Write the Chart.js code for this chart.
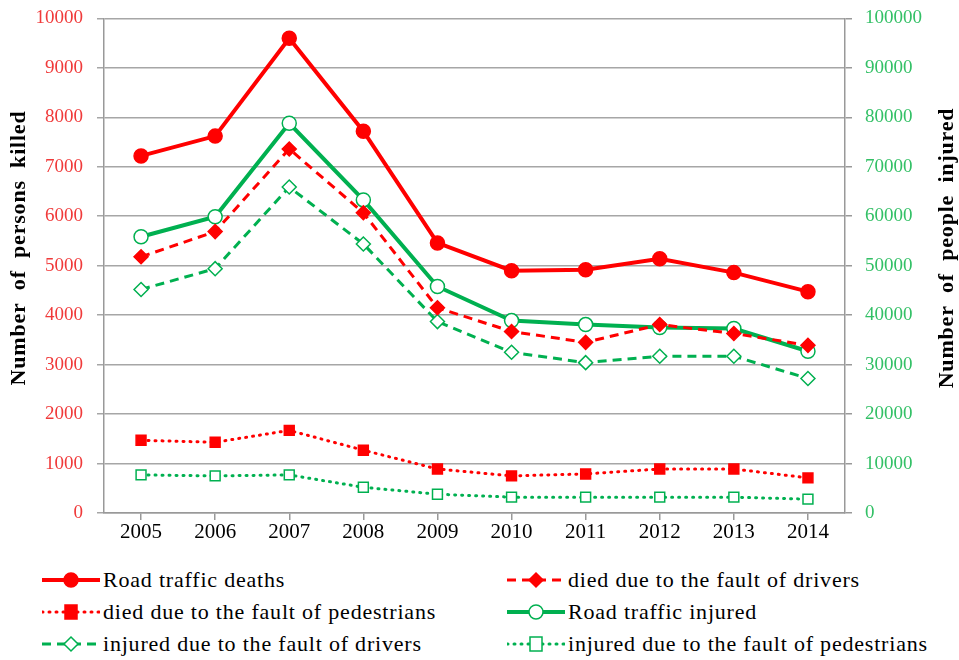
<!DOCTYPE html>
<html>
<head>
<meta charset="utf-8">
<script src="https://cdn.jsdelivr.net/npm/chart.js@4.4.1/dist/chart.umd.min.js"></script>
<style>
  body { margin: 0; background: #fff; }
  #wrap { position: relative; width: 959px; height: 660px; overflow: hidden; }
  #chart-box { position: absolute; left: 0; top: -7px; width: 959px; height: 557px; }
  .leg { position: absolute; display: flex; align-items: center; font-family: "Liberation Serif", "Times New Roman", serif; font-size: 22px; letter-spacing: 0.8px; color: #000; white-space: nowrap; }
  .leg svg { margin-right: 3px; }
</style>
</head>
<body>
<div id="wrap">
  <div id="chart-box"><canvas id="chart"></canvas></div>
  <div id="legend"></div>
</div>
<script>
const years = ["2005", "2006", "2007", "2008", "2009", "2010", "2011", "2012", "2013", "2014"];

// killed (left axis)
const deaths = [7220, 7620, 9600, 7720, 5460, 4900, 4920, 5140, 4860, 4475];
const diedDrivers = [5180, 5690, 7360, 6070, 4150, 3670, 3450, 3810, 3630, 3390];
const diedPedestrians = [1470, 1430, 1670, 1270, 890, 750, 790, 890, 890, 710];

// injured (right axis)
const injured = [55850, 59900, 78800, 63300, 45800, 38900, 38100, 37500, 37300, 32700];
const injuredDrivers = [45200, 49400, 65900, 54400, 38700, 32500, 30400, 31700, 31700, 27200];
const injuredPedestrians = [7700, 7500, 7700, 5200, 3800, 3200, 3200, 3200, 3200, 2800];

const RED = "#ff0000";
const GREEN = "#00b050";
const serif = "'Liberation Serif', 'Times New Roman', serif";

const series = [
    { label: "Road traffic deaths", data: deaths, axis: "yL", color: RED, width: 4, dash: [], point: "circle", r: 7, fill: RED },
    { label: "died due to the fault of drivers", data: diedDrivers, axis: "yL", color: RED, width: 3, dash: [9, 6], point: "rectRot", r: 7, fill: RED },
    { label: "died due to the fault of pedestrians", data: diedPedestrians, axis: "yL", color: RED, width: 3, dash: [1, 6], point: "rect", r: 7, fill: RED },
    { label: "Road traffic injured", data: injured, axis: "yR", color: GREEN, width: 4, dash: [], point: "circle", r: 7, fill: "#fff" },
    { label: "injured due to the fault of drivers", data: injuredDrivers, axis: "yR", color: GREEN, width: 3, dash: [9, 6], point: "rectRot", r: 7, fill: "#fff" },
    { label: "injured due to the fault of pedestrians", data: injuredPedestrians, axis: "yR", color: GREEN, width: 3, dash: [1, 6], point: "rect", r: 7, fill: "#fff" }
];

// both axis titles read bottom-to-top, a little above the middle
const axisTitles = {
    id: "axisTitles",
    afterDraw(chart) {
        const ctx = chart.ctx;
        ctx.save();
        ctx.font = "bold 22px " + serif;
        ctx.fillStyle = "#000";
        ctx.textAlign = "center";
        ctx.textBaseline = "middle";
        if ("letterSpacing" in ctx) ctx.letterSpacing = "0.8px";
        if ("wordSpacing" in ctx) ctx.wordSpacing = "6px";
        [["Number of persons killed", 19], ["Number of people injured", 947]].forEach(([t, x]) => {
            ctx.save();
            ctx.translate(x, 255);
            ctx.rotate(-Math.PI / 2);
            ctx.fillText(t, 0, 0);
            ctx.restore();
        });
        ctx.restore();
    }
};

new Chart(document.getElementById("chart"), {
    type: "line",
    data: {
        labels: years,
        datasets: series.map(s => ({
            label: s.label,
            data: s.data,
            yAxisID: s.axis,
            borderColor: s.color,
            borderWidth: s.width,
            borderDash: s.dash,
            borderCapStyle: s.dash[0] === 1 ? "round" : "butt",
            pointStyle: s.point,
            pointRadius: s.r,
            pointBackgroundColor: s.fill,
            pointBorderColor: s.color,
            pointBorderWidth: 1.5,
            tension: 0
        }))
    },
    options: {
        responsive: true,
        maintainAspectRatio: false,
        animation: false,
        layout: { padding: { top: 2, right: 0, left: 0, bottom: 0 } },
        plugins: { legend: { display: false }, tooltip: { enabled: false } },
        scales: {
            x: {
                offset: true,
                grid: { drawOnChartArea: false, drawTicks: true, tickLength: 7, color: "#999", lineWidth: 1.5 },
                border: { color: "#999", width: 1.5 },
                ticks: { color: "#000", font: { family: serif, size: 21 }, padding: 0 },
                afterFit: s => { s.height = 37; }
            },
            yL: {
                position: "left",
                min: 0, max: 10000,
                ticks: { stepSize: 1000, color: "#f03a3a", font: { family: serif, size: 19 }, padding: 14, callback: v => String(v) },
                grid: { color: "#a6a6a6", lineWidth: 1.5, tickLength: 7 },
                border: { color: "#999", width: 1.5 },
                afterFit: s => { s.width = 104; }
            },
            yR: {
                position: "right",
                min: 0, max: 100000,
                ticks: { stepSize: 10000, color: "#33c066", font: { family: serif, size: 19 }, padding: 13, callback: v => String(v) },
                grid: { drawOnChartArea: false, color: "#999", lineWidth: 1.5, tickLength: 7 },
                border: { color: "#999", width: 1.5 },
                afterFit: s => { s.width = 114; }
            }
        }
    },
    plugins: [axisTitles]
});

// legend with line + marker samples
function sampleSvg(s) {
    const w = 58, h = 22, cy = 11, cx = w / 2;
    const dash = s.dash.length ? `stroke-dasharray="${s.dash.join(",")}"` : "";
    const cap = s.dash[0] === 1 ? `stroke-linecap="round"` : "";
    const line = `<line x1="0" y1="${cy}" x2="${w}" y2="${cy}" stroke="${s.color}" stroke-width="${s.width}" ${dash} ${cap}/>`;
    let mark;
    if (s.point === "circle") mark = `<circle cx="${cx}" cy="${cy}" r="7" fill="${s.fill}" stroke="${s.color}" stroke-width="1.5"/>`;
    else if (s.point === "rectRot") mark = `<polygon points="${cx},${cy - 7} ${cx + 7},${cy} ${cx},${cy + 7} ${cx - 7},${cy}" fill="${s.fill}" stroke="${s.color}" stroke-width="1.5"/>`;
    else mark = `<rect x="${cx - 6}" y="${cy - 7}" width="12" height="14" fill="${s.fill}" stroke="${s.color}" stroke-width="1.5"/>`;
    return `<svg width="${w}" height="${h}">${line}${mark}</svg>`;
}
const legendPos = [[42, 567], [507, 567], [42, 599], [507, 599], [42, 631], [507, 631]];
const legend = document.getElementById("legend");
series.forEach((s, i) => {
    const d = document.createElement("div");
    d.className = "leg";
    d.style.left = legendPos[i][0] + "px";
    d.style.top = legendPos[i][1] + "px";
    d.innerHTML = sampleSvg(s) + "<span>" + s.label + "</span>";
    legend.appendChild(d);
});
</script>
</body>
</html>
